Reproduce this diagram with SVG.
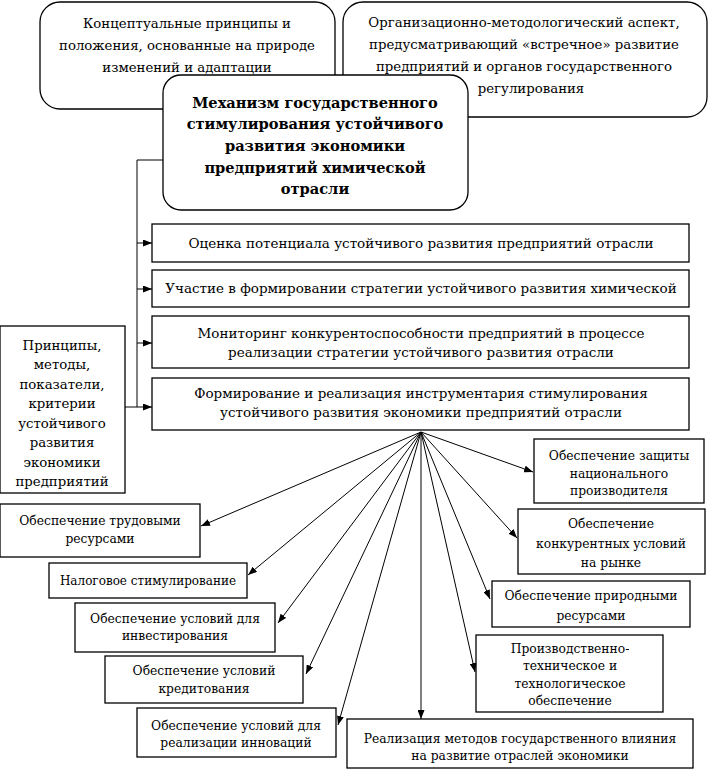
<svg xmlns="http://www.w3.org/2000/svg" width="709" height="770" viewBox="0 0 709 770">
<defs>
<marker id="ah" markerUnits="userSpaceOnUse" markerWidth="9" markerHeight="7" refX="9" refY="3.5" orient="auto">
<path d="M0,0 L9,3.5 L0,7 z" fill="#000"/>
</marker>
<style>
.box{fill:#fff;stroke:#000;stroke-width:1.3}
.t{font-size:13.3px;fill:#000;text-anchor:middle}
.m{font-size:13.5px;fill:#000;text-anchor:middle}
.s{font-size:12.3px;fill:#000;text-anchor:middle}
.b{font-size:14.6px;font-weight:bold;fill:#000;text-anchor:middle}
.c{fill:none;stroke:#000;stroke-width:1}
.a{fill:none;stroke:#000;stroke-width:1;marker-end:url(#ah)}
</style>
</defs>
<rect width="709" height="770" fill="#fff"/>
<g font-family="'DejaVu Serif', 'Liberation Serif', serif">
<g id="n-concept">
<rect class="box" x="40" y="2" width="295" height="107" rx="20"/>
<text class="t" x="187" y="28">Концептуальные принципы и</text>
<text class="t" x="187" y="50">положения, основанные на природе</text>
<text class="t" x="187" y="72">изменений и адаптации</text>
</g>
<g id="n-org">
<rect class="box" x="343" y="2" width="364" height="115" rx="20"/>
<text class="t" x="524" y="27">Организационно-методологический аспект,</text>
<text class="t" x="524" y="49">предусматривающий «встречное» развитие</text>
<text class="t" x="524" y="71">предприятий и органов государственного</text>
<text class="t" x="531" y="93">регулирования</text>
</g>
<g id="n-main">
<rect class="box" x="163" y="75" width="305" height="135" rx="18"/>
<text class="b" x="315" y="108">Механизм государственного</text>
<text class="b" x="315" y="129">стимулирования устойчивого</text>
<text class="b" x="315" y="151">развития экономики</text>
<text class="b" x="315" y="173">предприятий химической</text>
<text class="b" x="315" y="194">отрасли</text>
</g>
<g id="n-principles">
<rect class="box" x="0" y="326" width="125" height="167"/>
<text class="t" x="62" y="350">Принципы,</text>
<text class="t" x="62" y="369">методы,</text>
<text class="t" x="62" y="389">показатели,</text>
<text class="t" x="62" y="408">критерии</text>
<text class="t" x="62" y="428">устойчивого</text>
<text class="t" x="62" y="447">развития</text>
<text class="t" x="62" y="467">экономики</text>
<text class="t" x="62" y="486">предприятий</text>
</g>
<g id="n-r1">
<rect class="box" x="152" y="224" width="537" height="38"/>
<text class="m" x="421" y="248">Оценка потенциала устойчивого развития предприятий отрасли</text>
</g>
<g id="n-r2">
<rect class="box" x="152" y="270" width="537" height="37"/>
<text class="m" x="421" y="293">Участие в формировании стратегии устойчивого развития химической</text>
</g>
<g id="n-r3">
<rect class="box" x="152" y="316" width="537" height="52"/>
<text class="m" x="421" y="338">Мониторинг конкурентоспособности предприятий в процессе</text>
<text class="m" x="421" y="357">реализации стратегии устойчивого развития отрасли</text>
</g>
<g id="n-r4">
<rect class="box" x="152" y="378" width="537" height="52"/>
<text class="m" x="421" y="398">Формирование и реализация инструментария стимулирования</text>
<text class="m" x="421" y="417">устойчивого развития экономики предприятий отрасли</text>
</g>
<g id="n-labor">
<rect class="box" x="0" y="504" width="200" height="53"/>
<text class="s" x="100" y="525">Обеспечение трудовыми</text>
<text class="s" x="100" y="543">ресурсами</text>
</g>
<g id="n-tax">
<rect class="box" x="49" y="563" width="198" height="35"/>
<text class="s" x="148" y="585" style="font-size:12px">Налоговое стимулирование</text>
</g>
<g id="n-invest">
<rect class="box" x="75" y="603" width="200" height="49"/>
<text class="s" x="175" y="623">Обеспечение условий для</text>
<text class="s" x="175" y="640">инвестирования</text>
</g>
<g id="n-credit">
<rect class="box" x="105" y="656" width="198" height="47"/>
<text class="s" x="204" y="675">Обеспечение условий</text>
<text class="s" x="204" y="693">кредитования</text>
</g>
<g id="n-innov">
<rect class="box" x="137" y="708" width="199" height="49"/>
<text class="s" x="236" y="730">Обеспечение условий для</text>
<text class="s" x="236" y="747">реализации инноваций</text>
</g>
<g id="n-protect">
<rect class="box" x="534" y="439" width="170" height="64"/>
<text class="s" x="619" y="460">Обеспечение защиты</text>
<text class="s" x="619" y="478">национального</text>
<text class="s" x="619" y="495">производителя</text>
</g>
<g id="n-compet">
<rect class="box" x="518" y="509" width="187" height="65"/>
<text class="s" x="611" y="528">Обеспечение</text>
<text class="s" x="611" y="548">конкурентных условий</text>
<text class="s" x="611" y="567">на рынке</text>
</g>
<g id="n-nature">
<rect class="box" x="492" y="581" width="198" height="46"/>
<text class="s" x="591" y="600">Обеспечение природными</text>
<text class="s" x="591" y="620">ресурсами</text>
</g>
<g id="n-tech">
<rect class="box" x="476" y="635" width="187" height="77"/>
<text class="s" x="570" y="653">Производственно-</text>
<text class="s" x="570" y="670">техническое и</text>
<text class="s" x="570" y="688">технологическое</text>
<text class="s" x="570" y="705">обеспечение</text>
</g>
<g id="n-methods">
<rect class="box" x="347" y="719" width="346" height="49"/>
<text class="s" x="520" y="743">Реализация методов государственного влияния</text>
<text class="s" x="520" y="760">на развитие отраслей экономики</text>
</g>
</g>
<g id="connectors">
<polyline class="c" points="163,160 137,160 137,407"/>
<line class="c" x1="125" y1="407" x2="137" y2="407"/>
<line class="a" x1="137" y1="243" x2="152" y2="243"/>
<line class="a" x1="137" y1="289" x2="152" y2="289"/>
<line class="a" x1="137" y1="343" x2="152" y2="343"/>
<line class="a" x1="137" y1="407" x2="152" y2="407"/>
<line class="a" x1="421" y1="432" x2="201" y2="526"/>
<line class="a" x1="421" y1="432" x2="248" y2="575"/>
<line class="a" x1="421" y1="432" x2="278" y2="623"/>
<line class="a" x1="421" y1="432" x2="306" y2="674"/>
<line class="a" x1="421" y1="432" x2="338" y2="725"/>
<line class="a" x1="421" y1="432" x2="421" y2="719"/>
<line class="a" x1="421" y1="432" x2="475" y2="672"/>
<line class="a" x1="421" y1="432" x2="490" y2="599"/>
<line class="a" x1="421" y1="432" x2="517" y2="538"/>
<line class="a" x1="421" y1="432" x2="533" y2="472"/>
</g>
</svg>
